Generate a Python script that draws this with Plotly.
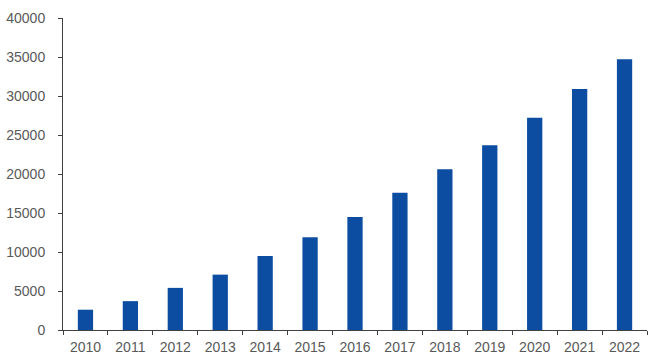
import plotly.graph_objects as go

years = ["2010", "2011", "2012", "2013", "2014", "2015", "2016",
         "2017", "2018", "2019", "2020", "2021", "2022"]
values = [2600, 3700, 5400, 7100, 9500, 11900, 14500,
          17600, 20600, 23700, 27200, 30900, 34700]
y_ticks = [0, 5000, 10000, 15000, 20000, 25000, 30000, 35000, 40000]
y_tick_labels = [str(v) for v in y_ticks]

fig = go.Figure(go.Bar(
    x=years, y=values,
    marker=dict(color="#0C4DA2", line=dict(width=0)),
    width=0.34,
))

axis_font = dict(family="Liberation Sans, Arial, sans-serif", size=14, color="#595959")

fig.update_layout(
    width=651, height=360,
    margin=dict(l=63, r=4, t=18, b=30),
    paper_bgcolor="white", plot_bgcolor="white",
    showlegend=False,
    xaxis=dict(
        type="category",
        tickson="boundaries",
        ticks="outside", ticklen=4, tickcolor="#404040", tickwidth=1,
        showline=True, linecolor="#404040", linewidth=1,
        showgrid=False, tickfont=axis_font,
        ticklabelstandoff=4,
    ),
    yaxis=dict(
        range=[0, 40000],
        tickvals=y_ticks, ticktext=y_tick_labels,
        ticks="outside", ticklen=4, tickcolor="#404040", tickwidth=1,
        showline=True, linecolor="#404040", linewidth=1,
        showgrid=False, zeroline=False, tickfont=axis_font,
        ticklabelstandoff=10,
    ),
)

fig.write_html("out.html")
